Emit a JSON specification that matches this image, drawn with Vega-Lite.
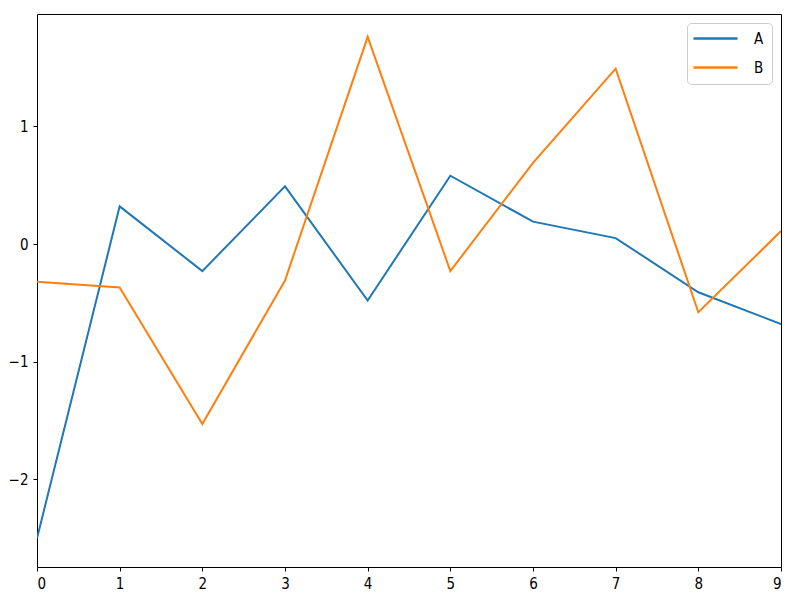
{
  "$schema": "https://vega.github.io/schema/vega-lite/v6.json",
  "width": 744,
  "height": 553,
  "autosize": {"type": "none"},
  "padding": {"left": 37, "top": 14, "right": 19, "bottom": 47},
  "background": "white",
  "config": {
    "view": {"stroke": "black", "strokeWidth": 1},
    "font": "DejaVu Sans Condensed",
    "axis": {
      "grid": false,
      "domain": false,
      "tickColor": "black",
      "tickSize": 4,
      "labelFontSize": 15,
      "labelColor": "black",
      "labelFont": "DejaVu Sans Condensed",
      "labelPadding": 5,
      "title": null
    }
  },
  "data": {
    "values": [
      {"x": 0, "v": -2.50, "s": "A"},
      {"x": 1, "v": 0.32, "s": "A"},
      {"x": 2, "v": -0.23, "s": "A"},
      {"x": 3, "v": 0.49, "s": "A"},
      {"x": 4, "v": -0.48, "s": "A"},
      {"x": 5, "v": 0.58, "s": "A"},
      {"x": 6, "v": 0.19, "s": "A"},
      {"x": 7, "v": 0.05, "s": "A"},
      {"x": 8, "v": -0.41, "s": "A"},
      {"x": 9, "v": -0.68, "s": "A"},
      {"x": 0, "v": -0.32, "s": "B"},
      {"x": 1, "v": -0.37, "s": "B"},
      {"x": 2, "v": -1.53, "s": "B"},
      {"x": 3, "v": -0.31, "s": "B"},
      {"x": 4, "v": 1.76, "s": "B"},
      {"x": 5, "v": -0.23, "s": "B"},
      {"x": 6, "v": 0.69, "s": "B"},
      {"x": 7, "v": 1.49, "s": "B"},
      {"x": 8, "v": -0.58, "s": "B"},
      {"x": 9, "v": 0.11, "s": "B"}
    ]
  },
  "mark": {"type": "line", "strokeWidth": 2, "clip": true},
  "encoding": {
    "x": {
      "field": "x", "type": "quantitative",
      "scale": {"domain": [0, 9], "nice": false, "zero": false},
      "axis": {"values": [0,1,2,3,4,5,6,7,8,9], "format": "d"}
    },
    "y": {
      "field": "v", "type": "quantitative",
      "scale": {"domain": [-2.744, 1.954], "nice": false, "zero": false},
      "axis": {"values": [-2,-1,0,1], "format": "d", "labelExpr": "replace(datum.label, '-', '\u2212')"}
    },
    "color": {
      "field": "s", "type": "nominal",
      "scale": {"domain": ["A", "B"], "range": ["#1f77b4", "#ff7f0e"]},
      "legend": {
        "title": null,
        "orient": "top-right",
        "offset": 9,
        "symbolType": "M-4,0H4",
        "symbolSize": 121,
        "symbolStrokeWidth": 2.5,
        "symbolOffset": 13,
        "labelFontSize": 15,
        "labelFont": "DejaVu Sans Condensed",
        "labelColor": "black",
        "strokeColor": "#cccccc",
        "fillColor": "white",
        "cornerRadius": 4,
        "padding": 8,
        "rowPadding": 13,
        "labelOffset": 31
      }
    }
  }
}
